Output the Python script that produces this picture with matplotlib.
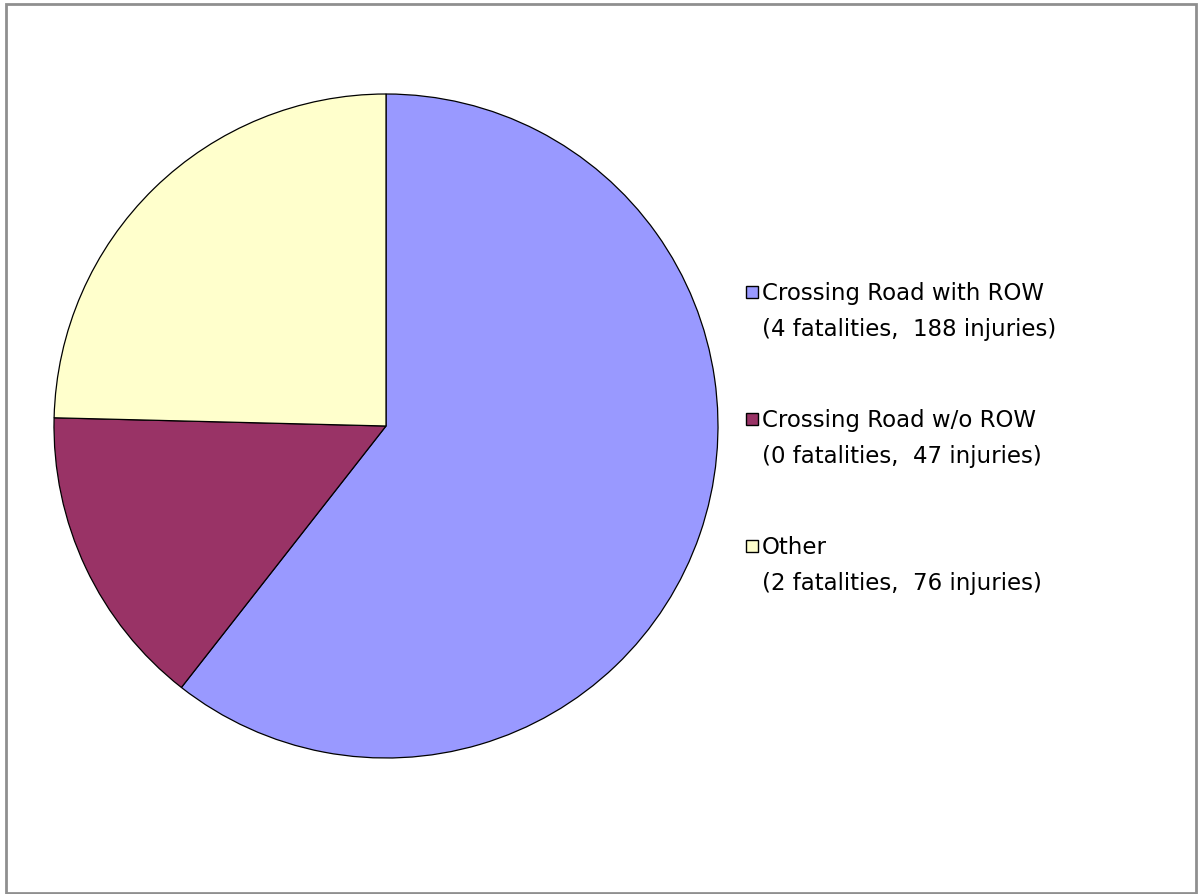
import matplotlib
matplotlib.use("Agg")
import matplotlib.pyplot as plt
from matplotlib.patches import Rectangle

# Pedestrian crash categories
categories = ["Crossing Road with ROW", "Crossing Road w/o ROW", "Other"]
fatalities = [4, 0, 2]
injuries = [188, 47, 76]
colors = ["#9999FF", "#993366", "#FFFFCC"]

totals = [f + i for f, i in zip(fatalities, injuries)]

W, H = 1198, 894
fig = plt.figure(figsize=(W / 100, H / 100), dpi=100)
fig.patch.set_facecolor("white")

# Outer chart frame
fig.patches.append(Rectangle((6 / W, 1 / H), (1196 - 6) / W, (890 - 1) / H,
                             transform=fig.transFigure, fill=False,
                             edgecolor="#8f8f8f", linewidth=2))

# Pie area: centre (386, 426) px, radius 332 px
cx, cy, r = 386, 426, 332
ax = fig.add_axes([(cx - r) / W, (H - cy - r) / H, 2 * r / W, 2 * r / H])
ax.pie(totals, colors=colors, startangle=90, counterclock=False, radius=1,
       wedgeprops=dict(edgecolor="black", linewidth=0.9))
ax.set_xlim(-1.0, 1.0)
ax.set_ylim(-1.0, 1.0)
ax.set_aspect("equal")
ax.axis("off")

# Legend entries with two-line labels
text_x = 762
first_base = 300
line_gap = 36
entry_gap = 127
sq = 12
fs = 16.5
for k, (name, f, i, c) in enumerate(zip(categories, fatalities, injuries, colors)):
    base = first_base + k * entry_gap
    fig.text(text_x / W, 1 - base / H, name, fontsize=fs,
             family="DejaVu Sans", va="baseline", ha="left", color="black")
    fig.text(text_x / W, 1 - (base + line_gap) / H,
             f"({f} fatalities,  {i} injuries)", fontsize=fs,
             family="DejaVu Sans", va="baseline", ha="left", color="black")
    sy = base - 8
    fig.patches.append(Rectangle((746 / W, 1 - (sy + sq / 2) / H), sq / W, sq / H,
                                 transform=fig.transFigure, facecolor=c,
                                 edgecolor="black", linewidth=1))

fig.savefig("out.png", dpi=100, facecolor="white")
